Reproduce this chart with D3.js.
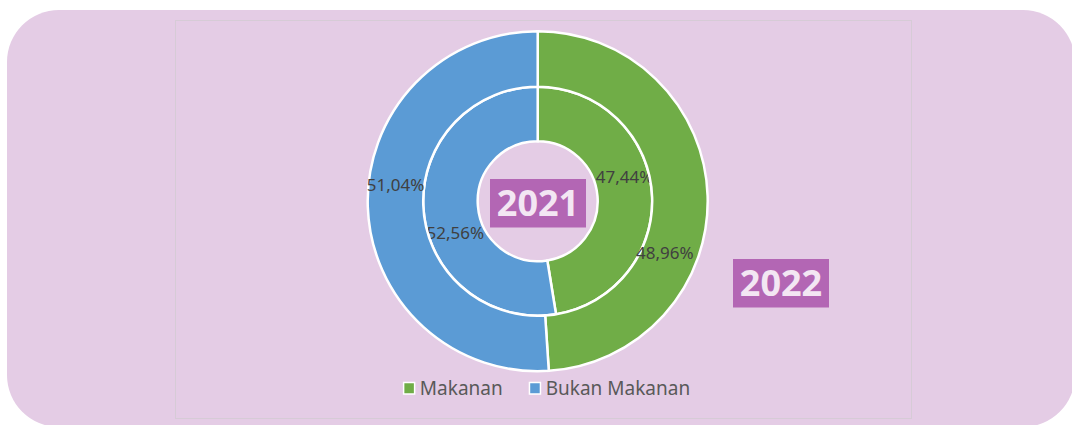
<!DOCTYPE html>
<html>
<head>
<meta charset="utf-8">
<script src="https://cdn.jsdelivr.net/npm/d3@7/dist/d3.min.js"></script>
<style>
  body { margin: 0; background: #ffffff; }
  svg { display: block; }
  text { font-family: "Noto Sans", "Open Sans", sans-serif; }
</style>
</head>
<body>
<div id="chart"></div>
<script>
// data
var categories = ["Makanan", "Bukan Makanan"];
var years = ["2021", "2022"];
var values2021 = [47.44, 52.56];
var values2022 = [48.96, 51.04];

var colors = ["#70ad47", "#5b9bd5"];

var width = 1072, height = 425;
var cx = 537.7, cy = 201.2;

var svg = d3.select("#chart").append("svg")
    .attr("width", width)
    .attr("height", height);

// pink card behind the chart
svg.append("rect")
    .attr("x", 7).attr("y", 10)
    .attr("width", 1068).attr("height", 417)
    .attr("rx", 52).attr("ry", 52)
    .attr("fill", "#e4cce5");

// faint plot area border
svg.append("rect")
    .attr("x", 175.5).attr("y", 20.5)
    .attr("width", 736).attr("height", 398)
    .attr("fill", "none")
    .attr("stroke", "#d6cbd6")
    .attr("stroke-width", 1);

var pie = d3.pie().sort(null).value(function(d) { return d; })
    .startAngle(0).endAngle(2 * Math.PI);

var fmt = function(v) { return v.toFixed(2).replace(".", ",") + "%"; };

// rings: inner = 2021, outer = 2022
var rings = [
  { values: values2021, r0: 60, r1: 114.5, offsets: [[0, -17.5], [4.5, 25]] },
  { values: values2022, r0: 114.5, r1: 170, offsets: [[-15, 57], [0, -21]] }
];

var g = svg.append("g").attr("transform", "translate(" + cx + "," + cy + ")");

rings.forEach(function(ring) {
  var arc = d3.arc().innerRadius(ring.r0).outerRadius(ring.r1);
  var arcs = pie(ring.values);

  g.selectAll(null)
      .data(arcs)
    .enter().append("path")
      .attr("d", arc)
      .attr("fill", function(d, i) { return colors[i]; })
      .attr("stroke", "#ffffff")
      .attr("stroke-width", 2.5);

  g.selectAll(null)
      .data(arcs)
    .enter().append("text")
      .attr("x", function(d, i) { return arc.centroid(d)[0] + ring.offsets[i][0]; })
      .attr("y", function(d, i) { return arc.centroid(d)[1] + ring.offsets[i][1]; })
      .attr("dy", "0.35em")
      .attr("text-anchor", "middle")
      .attr("fill", "#404040")
      .style("font-size", "17px")
      .text(function(d) { return fmt(d.data); });
});

// year tags
var tags = [
  { label: years[0], x: 490, y: 179 },
  { label: years[1], x: 733, y: 259 }
];
tags.forEach(function(t) {
  svg.append("rect")
      .attr("x", t.x).attr("y", t.y)
      .attr("width", 96).attr("height", 48.5)
      .attr("fill", "#b366b4");
  svg.append("text")
      .attr("x", t.x + 48).attr("y", t.y + 24.5)
      .attr("dy", "0.35em")
      .attr("text-anchor", "middle")
      .attr("fill", "#f3e6f3")
      .style("font-size", "36px")
      .style("font-weight", "bold")
      .text(t.label);
});

// legend
var legend = svg.append("g");
var lx = 0;
categories.forEach(function(c, i) {
  var item = legend.append("g").attr("transform", "translate(" + lx + ",0)");
  item.append("rect")
      .attr("x", 0.75).attr("y", -12.5)
      .attr("width", 11).attr("height", 11.5)
      .attr("fill", colors[i])
      .attr("stroke", "#ffffff")
      .attr("stroke-width", 1.5);
  var t = item.append("text")
      .attr("x", 17).attr("y", 0)
      .attr("fill", "#595959")
      .style("font-size", "19px")
      .text(c);
  lx += 17 + t.node().getComputedTextLength() + 26;
});
var lw = lx - 26;
legend.attr("transform", "translate(" + (546.5 - lw / 2) + ",395)");
</script>
</body>
</html>
